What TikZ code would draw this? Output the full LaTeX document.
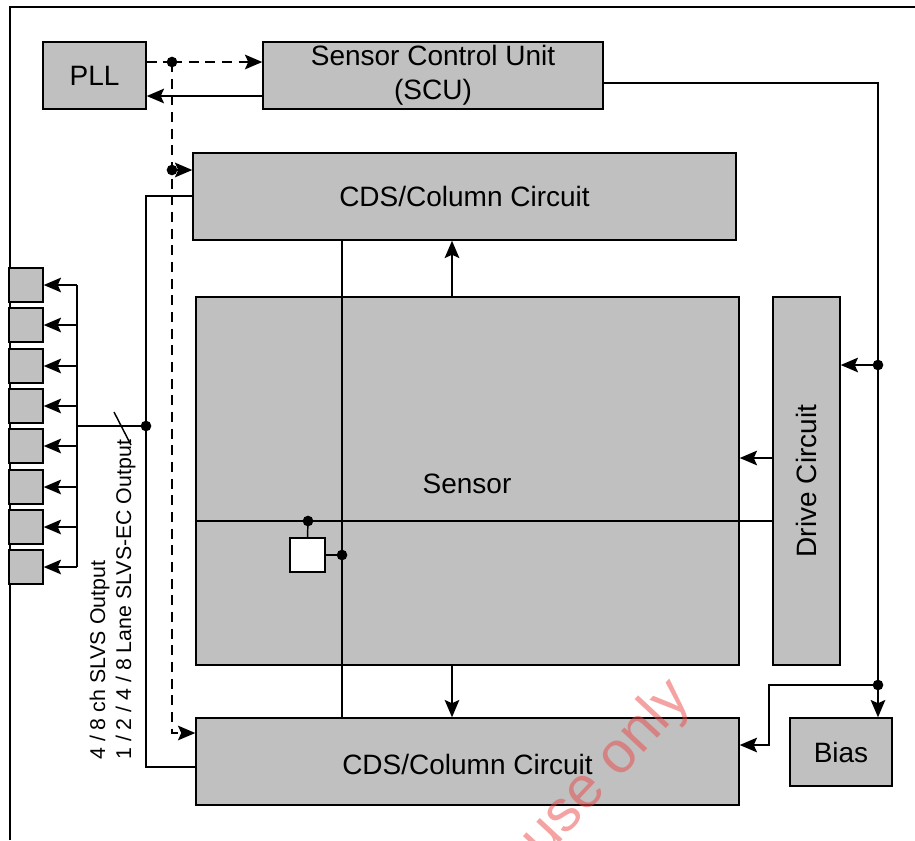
\documentclass[tikz,border=0pt]{standalone}
\usepackage{fontspec}
\setmainfont{Liberation Sans}
\usetikzlibrary{arrows.meta,fit,calc}
\definecolor{boxgray}{RGB}{192,192,192}
\definecolor{wm}{RGB}{235,70,70}
\begin{document}
\begin{tikzpicture}[x=0.75pt,y=-0.75pt,
  box/.style={draw=black,fill=boxgray,line width=1.1pt,inner sep=0pt},
  txt/.style={font=\fontsize{21}{25.5}\selectfont,align=center,inner sep=0pt},
  conn/.style={line width=1.1pt},
  arr/.style={conn,-{Stealth[length=13pt,width=11pt,inset=2.5pt]}},
  dashline/.style={conn,dash pattern=on 7.5pt off 5pt},
  dot/.style={circle,fill=black,inner sep=0pt,minimum size=8pt},
  lbl/.style={font=\fontsize{16}{19}\selectfont,rotate=90,anchor=base west,inner sep=0pt}]
\useasboundingbox (0,0) rectangle (915,840);
\fill[white] (0,0) rectangle (915,840);
\draw[conn] (10,840) -- (10,7) -- (915,7);

% boxes
\node[box,fit={(43,42)(146,109)}] (pll) {};
\node[txt] (pllt) at (pll.center) {PLL};
\node[box,fit={(263,42)(603,109)}] (scu) {};
\node[txt] (scut) at (scu.center) {Sensor Control Unit\\(SCU)};
\node[box,fit={(193,153)(736,240)}] (cdsT) {};
\node[txt] (cdsTt) at (cdsT.center) {CDS/Column Circuit};
\node[box,fit={(196,297)(739,665)}] (sensor) {};
\node[txt] (sensort) at (467,484) {Sensor};
\node[box,fit={(773,297)(840,665)}] (drive) {};
\node[txt,rotate=90] (drivet) at (drive.center) {Drive Circuit};
\node[box,fit={(196,718)(739,805)}] (cdsB) {};
\node[txt] (cdsBt) at ($(cdsB.center)+(0,3)$) {CDS/Column Circuit};
\node[box,fit={(790,718)(892,786)}] (bias) {};
\node[txt] (biast) at (bias.center) {Bias};
\foreach \i/\y in {1/268,2/308,3/349,4/389,5/429,6/470,7/510,8/550}
  \node[box,fit={(9,\y)(43,\y+34)}] (p\i) {};

% coordinates
\coordinate (d1) at (172,62);
\coordinate (d2) at (172,170);
\coordinate (d3) at (172,733);
\coordinate (y96) at (200,96);
\coordinate (r1) at (878,83);
\coordinate (d4) at (878,365);
\coordinate (d5) at (878,685);
\coordinate (k1) at (769,685);
\coordinate (k2) at (769,745);
\coordinate (b1) at (146,196);
\coordinate (b2) at (146,767);
\coordinate (d6) at (146,426);
\coordinate (bus) at (77,426);
\coordinate (s1) at (114,412);
\coordinate (s2) at (131,445);
\coordinate (h1) at (196,521);
\coordinate (v1) at (342,400);
\coordinate (d7) at (308,521);
\coordinate (d8) at (342,555);
\coordinate (cx) at (452,481);
\coordinate (y458) at (760,458);

% clock (dashed)
\draw[dashline] (pll.east |- d1) -- (d1);
\draw[arr,dashline] (d1) -- (scu.west |- d1);
\draw[arr,dashline] (d1) -- (d3) -- (cdsB.west |- d3);
\draw[arr] (d2) -- (cdsT.west |- d2);

% SCU to PLL
\draw[arr] (scu.west |- y96) -- (pll.east |- y96);

% SCU to drive / bias / bottom CDS
\draw[arr] (scu.east |- r1) -- (r1) -- (r1 |- bias.north);
\draw[arr] (d4) -- (drive.east |- d4);
\draw[arr] (d5) -- (k1) -- (k2) -- (cdsB.east |- k2);

% outputs
\draw[conn] (cdsT.west |- b1) -- (b1) -- (b2) -- (cdsB.west |- b2);
\draw[conn] (d6) -- (bus);
\draw[conn] (bus |- p1.east) -- (bus |- p8.east);
\foreach \i in {1,...,8} \draw[arr] (bus |- p\i.east) -- (p\i.east);
\draw[conn] (s1) -- (s2);

% sensor internals
\draw[conn] (sensor.west |- h1) -- (drive.west |- h1);
\draw[conn] (cdsT.south -| v1) -- (cdsB.north -| v1);
\node[box,fill=white,fit={(290,538)(325,572)}] (sq) {};
\draw[conn] (d7) -- (sq.north);
\draw[conn] (sq.east) -- (d8);

\draw[arr] (sensor.north -| cx) -- (cdsT.south -| cx);
\draw[arr] (sensor.south -| cx) -- (cdsB.north -| cx);
\draw[arr] (drive.west |- y458) -- (sensor.east |- y458);

% dots
\foreach \c in {d1,d2,d4,d5,d6,d7,d8} \node[dot] (dot-\c) at (\c) {};

% labels
\node[lbl] (lab1) at (105,760) {4 / 8 ch SLVS Output};
\node[lbl] (lab2) at (131,760) {1 / 2 / 4 / 8 Lane SLVS-EC Output};

% watermark
\node[text=wm,opacity=0.5,rotate=47,font=\fontsize{44}{50}\selectfont] (wmark) at (607,770) {use only};
\end{tikzpicture}
\end{document}
